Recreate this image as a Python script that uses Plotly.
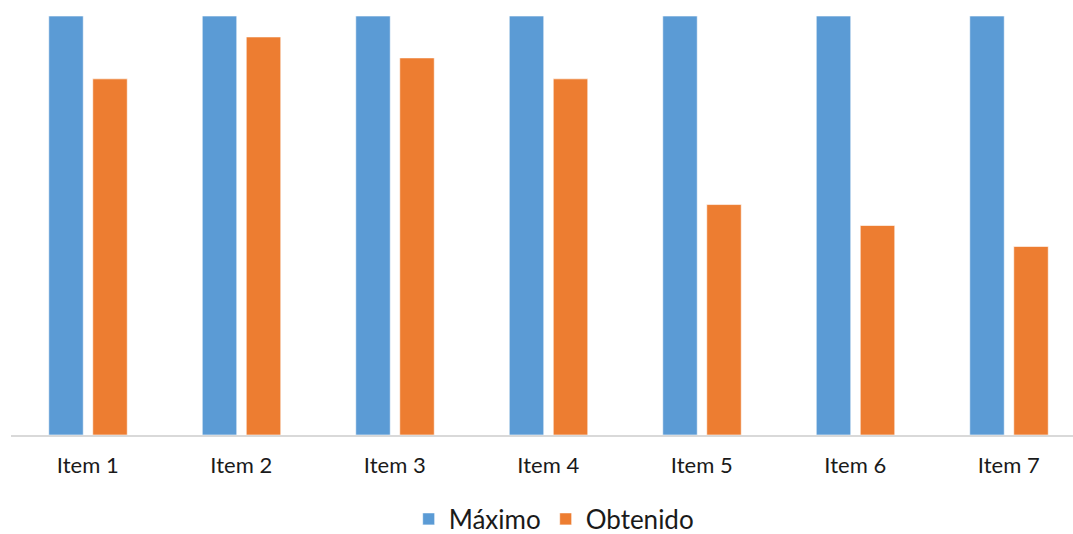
import plotly.graph_objects as go

categories = ["Item 1", "Item 2", "Item 3", "Item 4", "Item 5", "Item 6", "Item 7"]
maximo = [20, 20, 20, 20, 20, 20, 20]
obtenido = [17, 19, 18, 17, 11, 10, 9]

BLUE = "#5B9BD5"
ORANGE = "#ED7D31"
FONT = "Lato"

W, H = 1073, 534
left, right, top, bottom = 11, 0, 16, 99
plot_w = W - left - right
step = 153.5  # pixels per category
bar_w = 34.5 / step

fig = go.Figure()
fig.add_trace(go.Bar(
    x=categories, y=maximo, name="Máximo",
    width=bar_w, offset=-39 / step,
    marker=dict(color=BLUE, line=dict(color="rgba(255,255,255,0.6)", width=1)),
))
fig.add_trace(go.Bar(
    x=categories, y=obtenido, name="Obtenido",
    width=bar_w, offset=5 / step,
    marker=dict(color=ORANGE, line=dict(color="rgba(255,255,255,0.6)", width=1)),
))

fig.update_layout(
    width=W, height=H,
    margin=dict(l=left, r=right, t=top, b=bottom, pad=0, autoexpand=False),
    paper_bgcolor="white", plot_bgcolor="white",
    barmode="overlay",
    font=dict(family=FONT, color="#1a1a1a"),
    showlegend=True,
    legend=dict(
        orientation="h", x=0.511, xanchor="center",
        yref="container", y=(H - 519) / H, yanchor="middle",
        font=dict(size=26, family=FONT, color="#1a1a1a"),
        itemwidth=30, traceorder="normal",
    ),
    xaxis=dict(
        range=[-0.5, plot_w / step - 0.5],
        showgrid=False, zeroline=False,
        showline=True, linecolor="#d9d9d9", linewidth=2,
        ticks="outside", ticklen=10, tickcolor="rgba(0,0,0,0)",
        tickfont=dict(size=22, family=FONT, color="#1a1a1a"),
    ),
    yaxis=dict(
        range=[0, 20], visible=False, showgrid=False, zeroline=False,
    ),
)

fig.write_html("out.html")
